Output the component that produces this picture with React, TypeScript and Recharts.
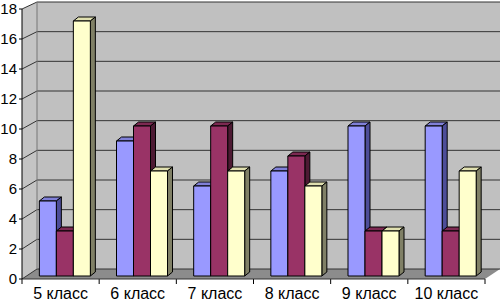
import React from 'react';
import * as Recharts from 'recharts';
import { BarChart, Bar, XAxis, YAxis } from 'recharts';

const classes = ['5 класс', '6 класс', '7 класс', '8 класс', '9 класс', '10 класс'];
const seriesA = [5, 9, 6, 7, 10, 10];
const seriesB = [3, 10, 10, 8, 3, 3];
const seriesC = [17, 7, 7, 6, 3, 7];
const yTicks = [0, 2, 4, 6, 8, 10, 12, 14, 16, 18];

const data = classes.map((name, i) => ({ name, a: seriesA[i], b: seriesB[i], c: seriesC[i] }));

// 3d look: wall depth and bar depth
const WALL_DX = 15;
const WALL_TOP_DY = -7;
const WALL_BOTTOM_DY = -10;
const BAR_SHIFT_X = 5;
const BAR_SHIFT_Y = -3;
const BAR_DX = 5;
const BAR_DY = -4;

const FONT = '"Liberation Sans", Arial, sans-serif';

const make3D = (front: string, top: string, side: string) => (props: any) => {
  const { x, y, width, height } = props;
  if (height == null || width == null) return <g />;
  const fx = x + BAR_SHIFT_X;
  const fy = y + BAR_SHIFT_Y;
  const w = width;
  const h = height;
  return (
    <g stroke="#000" strokeWidth={1} strokeLinejoin="round">
      <polygon
        points={`${fx},${fy} ${fx + BAR_DX},${fy + BAR_DY} ${fx + w + BAR_DX},${fy + BAR_DY} ${fx + w},${fy}`}
        fill={top}
      />
      <polygon
        points={`${fx + w},${fy} ${fx + w + BAR_DX},${fy + BAR_DY} ${fx + w + BAR_DX},${fy + h + BAR_DY} ${fx + w},${fy + h}`}
        fill={side}
      />
      <rect x={fx} y={fy} width={w} height={h} fill={front} />
    </g>
  );
};

const Walls = () => {
  const area = (Recharts as any).usePlotArea ? (Recharts as any).usePlotArea() : undefined;
  if (!area) return null;
  const { x, y, width, height } = area;
  const backTop = y + WALL_TOP_DY;
  const backBottom = y + height + WALL_BOTTOM_DY;
  const bx = x + WALL_DX;
  const max = yTicks[yTicks.length - 1];
  const frontY = (v: number) => y + height - (v / max) * height;
  const backY = (v: number) => backBottom - (v / max) * (backBottom - backTop);
  const bands = classes.length;
  return (
    <g>
      <polygon
        points={`${bx},${backTop} ${bx + width},${backTop} ${bx + width},${backBottom} ${bx},${backBottom}`}
        fill="#c0c0c0"
      />
      <polygon points={`${x},${y} ${bx},${backTop} ${bx},${backBottom} ${x},${y + height}`} fill="#c4c4c4" />
      <polygon
        points={`${x},${y + height} ${bx},${backBottom} ${bx + width},${backBottom} ${x + width},${y + height}`}
        fill="#8c8c8c"
      />
      {yTicks.map((v) => (
        <polyline
          key={v}
          points={`${x},${frontY(v)} ${bx},${backY(v)} ${bx + width},${backY(v)}`}
          fill="none"
          stroke="#333"
          strokeWidth={1}
        />
      ))}
      <line x1={bx} y1={backTop} x2={bx} y2={backBottom} stroke="#777" />
      {Array.from({ length: bands + 1 }, (_, i) => (
        <line
          key={i}
          x1={x + (i * width) / bands}
          y1={y + height}
          x2={x + (i * width) / bands}
          y2={y + height + 5}
          stroke="#000"
        />
      ))}
    </g>
  );
};

export default function App() {
  return (
    <div style={{ position: 'absolute', left: 0, top: 0, width: 501, height: 303, background: '#fff' }}>
      <BarChart
        width={501}
        height={303}
        data={data}
        margin={{ top: 9, right: 16, bottom: 0, left: 0 }}
        barCategoryGap="16%"
        barGap={0}
      >
        <Walls />
        <XAxis
          dataKey="name"
          height={24}
          tickLine={false}
          tickSize={6}
          tickMargin={3}
          axisLine={{ stroke: '#333' }}
          tick={{ fill: '#000', fontSize: 16, fontFamily: FONT }}
          interval={0}
        />
        <YAxis
          width={22}
          domain={[0, 18]}
          ticks={yTicks}
          tickSize={3}
          tickMargin={2}
          axisLine={{ stroke: '#000' }}
          tickLine={{ stroke: '#000' }}
          tick={{ fill: '#000', fontSize: 15, fontFamily: FONT }}
          interval={0}
        />
        <Bar dataKey="a" isAnimationActive={false} shape={make3D('#9999ff', '#8080d8', '#4d4d99')} />
        <Bar dataKey="b" isAnimationActive={false} shape={make3D('#993366', '#7d2952', '#4d1a33')} />
        <Bar dataKey="c" isAnimationActive={false} shape={make3D('#ffffcc', '#e0e0b0', '#808066')} />
      </BarChart>
    </div>
  );
}
